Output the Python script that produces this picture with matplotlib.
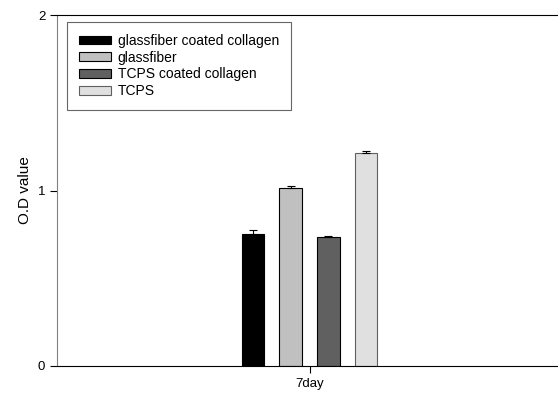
import numpy as np
import matplotlib.pyplot as plt

plt.rcParams["font.family"] = ["Liberation Sans", "DejaVu Sans"]

groups = ['7day']
labels = ['glassfiber coated collagen', 'glassfiber', 'TCPS coated collagen', 'TCPS']
values = [0.75, 1.012, 0.735, 1.215]
errors = [0.023, 0.012, 0.008, 0.008]
colors = ['#000000', '#c0c0c0', '#606060', '#e0e0e0']
edges = ['#000000', '#000000', '#000000', '#606060']

fig = plt.figure(figsize=(5.58, 3.99), dpi=100)
ax = fig.add_axes([57/558, 1-366/399, 505/558, 351/399])

offs = [-1.5, -0.5, 0.5, 1.5]
for i in range(len(labels)):
    ax.bar(offs[i], values[i], width=0.6, color=colors[i], edgecolor=edges[i],
           linewidth=0.8, label=labels[i], zorder=2)
    ax.errorbar(offs[i], values[i], yerr=[[0], [errors[i]]], fmt='none',
                ecolor='black', elinewidth=0.8, capsize=2.6, capthick=0.8, zorder=3)

ax.set_xlim(-6.7, 6.7)
ax.set_ylim(0, 2)
ax.set_xticks([0])
ax.set_xticklabels(groups, fontsize=9.5)
ax.set_yticks([0, 1, 2])
ax.tick_params(axis='y', labelsize=9.5, direction='out', length=5)
ax.tick_params(axis='x', direction='out', length=5)
ax.set_ylabel('O.D value', fontsize=11)
ax.spines['right'].set_visible(False)
ax.spines['left'].set_color('#808080')

leg = ax.legend(loc='upper left', bbox_to_anchor=(10/505, 1-7/351), fontsize=10,
                fancybox=False, handlelength=2.3, handleheight=0.6,
                labelspacing=0.2, handletextpad=0.5, borderpad=0.85,
                borderaxespad=0)
leg.get_frame().set_edgecolor('#404040')
leg.get_frame().set_linewidth(0.8)

plt.savefig('out.png')
